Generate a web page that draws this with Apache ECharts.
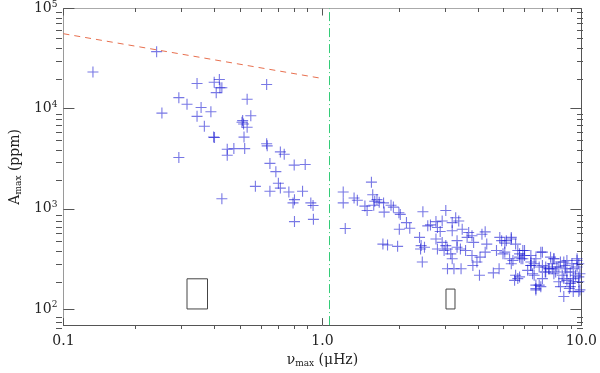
<!DOCTYPE html>
<html><head><meta charset="utf-8">
<script src="https://cdn.jsdelivr.net/npm/echarts@6/dist/echarts.min.js"></script>
<style>html,body{margin:0;padding:0;background:#fff}#c{width:600px;height:373px}</style>
</head><body><div id="c"></div>
<script>
// nu_max (muHz) values of the stars
const numax = [
0.130,0.229,0.240,0.279,0.279,0.300,0.328,0.328,0.340,0.350,0.371,0.380,0.383,0.382,0.400,0.402,0.409,0.389,0.409,0.429,0.429,0.455,0.501,0.498,0.489,0.496,0.492,0.512,0.512,0.529,0.551,0.609,0.609,0.612,0.627,0.627,0.661,0.676,0.688,0.688,0.712,0.742,0.778,0.858,0.780,0.770,0.838,0.902,0.920,0.780,0.923,
1.546,1.203,1.203,1.225,1.325,1.364,1.459,1.488,1.564,1.592,1.624,1.578,1.657,1.722,1.731,1.840,1.879,1.974,1.998,2.111,2.174,1.981,1.712,1.784,1.951,2.443,2.551,2.613,2.744,2.78,2.849,2.371,2.405,2.393,2.478,2.43,2.78,2.744,2.90,2.995,3.31,
2.995,3.27,3.17,3.36,3.465,3.17,2.90,3.67,3.78,3.62,3.835,4.13,4.25,3.31,3.41,3.57,3.04,2.95,3.13,3.17,3.04,3.22,3.43,3.78,3.95,3.81,4.06,4.25,4.31,4.04,4.57,4.81,4.70,4.92,4.84,5.13,5.36,5.57,5.06,5.28,5.36,5.68,6.03,5.77,5.94,5.57,5.77,6.20,6.38,6.57,6.67,6.87,6.38,6.67,7.07,6.87,7.28,7.25,7.49,7.72,7.83,8.04,7.83,8.18,8.55,8.79,8.55,9.06,9.19,9.49,9.62,9.87,9.3,9.77,8.98,9.62,8.66,8.3,9.3,9.87,8.79,
5.36,5.06,4.98,5.77,5.94,6.03,5.85,5.44,6.38,6.97,6.57,6.38,7.07,7.6,7.83,7.49,7.72,7.28,7.95,7.07,6.48,5.68,5.52,6.67,6.67,6.97,8.55,8.66,9.06,8.43,8.79,9.3,9.06,9.77,9.77,9.62,9.77,8.3,8.18,9.3
];
// A_max (ppm) values of the stars
const amax = [
23200,37100,9030,12880,3250,11070,17830,8380,10270,6680,9300,5200,5150,18370,19540,16180,16180,14450,1262,3930,3430,3990,3990,5200,7310,7030,7600,6530,12410,8490,1675,17430,4470,4250,2840,1495,2350,1800,1610,3700,3510,1470,2730,2770,1235,1146,1495,1146,1080,745,785,
1845,1470,1145,636,1282,1218,1064,962,1383,1191,1236,1087,1164,1145,927,1087,1040,914,879,728,640,625,444,435,422,934,676,691,745,650,593,518,429,397,413,294,397,500,462,429,413,
962,815,728,756,625,603,756,581,538,518,462,558,589,481,397,383,397,383,355,317,252,252,252,342,294,272,329,369,444,217,229,252,383,481,518,481,500,444,369,317,283,383,383,329,317,217,209,243,272,217,160,173,294,317,369,262,262,234,252,283,317,262,225,187,201,234,133,180,283,217,305,155,149,187,160,262,272,294,201,225,305,
518,454,355,355,383,342,317,305,342,369,283,272,272,329,317,252,252,234,234,201,225,201,193,173,155,167,294,252,234,217,193,187,167,209,283,317,149,167,262,252
];
// reference relation (dashed) and boundary (dash-dot)
const relX = [0.1, 1.0];
const relY = [56000, 20000];
const boundX = [1.065, 1.065];
const boundY = [69, 100000];
// representative error boxes
const box1X = [0.30, 0.36];
const box1Y = [100, 200];
const box2X = [3.0, 3.25];
const box2Y = [100, 158];
// axis ticks
const xMajor = [0.1, 1, 10];
const xMajorLabels = ['0.1', '1.0', '10.0'];
const xMinor = [0.2,0.3,0.4,0.5,0.6,0.7,0.8,0.9,2,3,4,5,6,7,8,9];
const yMajor = [100, 1000, 10000, 100000];
const yMinor = [70,80,90,200,300,400,500,600,700,800,900,2000,3000,4000,5000,6000,7000,8000,9000,20000,30000,40000,50000,60000,70000,80000,90000];
const X_MIN = 0.1, X_MAX = 10, Y_MIN = 69, Y_MAX = 100000;

const FONT = 'DejaVu Serif';
const zip = (a, b) => a.map((v, i) => [v, b[i]]);
const boxPath = (bx, by) => [[bx[0],by[0]],[bx[1],by[0]],[bx[1],by[1]],[bx[0],by[1]],[bx[0],by[0]]];

function xAx(grid, pos, major, color, showLine) {
  const vals = major ? xMajor : xMinor;
  return {
    type: 'log', gridIndex: grid, position: pos, min: X_MIN, max: X_MAX,
    axisLine: {show: showLine, lineStyle: {color: color, width: 1}},
    axisTick: {show: true, inside: true, length: major ? 7 : 4, customValues: vals, lineStyle: {color: '#555'}},
    axisLabel: {show: false},
    splitLine: {show: false}, minorTick: {show: false}
  };
}
function yAx(grid, pos, major, color, showLine) {
  const vals = major ? yMajor : yMinor;
  return {
    type: 'log', gridIndex: grid, position: pos, min: Y_MIN, max: Y_MAX,
    axisLine: {show: showLine, lineStyle: {color: color, width: 1}},
    axisTick: {show: true, inside: true, length: major ? 11 : 6, customValues: vals, lineStyle: {color: '#555'}},
    axisLabel: {show: false},
    splitLine: {show: false}, minorTick: {show: false}
  };
}

const xBottom = xAx(0, 'bottom', true, '#555', true);
xBottom.axisLabel = {
  show: true, customValues: xMajor, margin: 9, color: '#222', fontFamily: FONT, fontSize: 14,
  formatter: v => xMajorLabels[xMajor.findIndex(m => Math.abs(m - v) < 1e-9)] || ''
};
xBottom.name = 'ν{s|max} (μHz)';
xBottom.nameLocation = 'middle';
xBottom.nameGap = 20;
xBottom.nameTextStyle = {color: '#222', fontFamily: FONT, fontSize: 14,
  rich: {s: {fontFamily: FONT, fontSize: 9, padding: [7, 0, 0, 0], color: '#222'}}};

const yLeft = yAx(0, 'left', true, '#9a9a9a', true);
yLeft.axisLabel = {
  show: true, customValues: yMajor, margin: 6, color: '#222', fontFamily: FONT, fontSize: 14,
  formatter: v => '10{s|' + Math.round(Math.log10(v)) + '}',
  rich: {s: {fontFamily: FONT, fontSize: 9, padding: [0, 0, 8, 0], color: '#222'}}
};
yLeft.name = 'A{s|max} (ppm)';
yLeft.nameLocation = 'middle';
yLeft.nameGap = 34;
yLeft.nameTextStyle = {color: '#222', fontFamily: FONT, fontSize: 14,
  rich: {s: {fontFamily: FONT, fontSize: 9, padding: [7, 0, 0, 0], color: '#222'}}};

const gridRect = {left: 56, right: 17, top: 8, bottom: 44};

const option = {
  animation: false,
  backgroundColor: '#fff',
  grid: [Object.assign({}, gridRect), Object.assign({}, gridRect)],
  xAxis: [xBottom, xAx(0, 'top', true, '#aaa', true), xAx(1, 'bottom', false, '#555', false), xAx(1, 'top', false, '#aaa', false)],
  yAxis: [yLeft, yAx(0, 'right', true, '#555', true), yAx(1, 'left', false, '#999', false), yAx(1, 'right', false, '#555', false)],
  series: [
    {type: 'scatter', xAxisIndex: 0, yAxisIndex: 0, data: zip(numax, amax), silent: true,
     symbol: 'path://M0,4.5L10,4.5L10,5.5L0,5.5Z M4.5,0L5.5,0L5.5,10L4.5,10Z', symbolSize: 11,
     itemStyle: {color: 'rgba(20,20,210,0.72)'}},
    {type: 'line', xAxisIndex: 0, yAxisIndex: 0, data: zip(relX, relY), symbol: 'none', silent: true,
     color: '#e8704f', lineStyle: {color: '#e8704f', width: 1, type: [6, 5]}},
    {type: 'line', xAxisIndex: 0, yAxisIndex: 0, data: zip(boundX, boundY), symbol: 'none', silent: true,
     color: '#33cc77', lineStyle: {color: '#33cc77', width: 1, type: [9, 3, 1, 3]}},
    {type: 'line', xAxisIndex: 0, yAxisIndex: 0, data: boxPath(box1X, box1Y), symbol: 'none', silent: true,
     lineStyle: {color: '#444', width: 1}},
    {type: 'line', xAxisIndex: 0, yAxisIndex: 0, data: boxPath(box2X, box2Y), symbol: 'none', silent: true,
     lineStyle: {color: '#444', width: 1}}
  ]
};
const chart = echarts.init(document.getElementById('c'), null, {renderer: 'canvas'});
chart.setOption(option);
</script>
</body></html>
